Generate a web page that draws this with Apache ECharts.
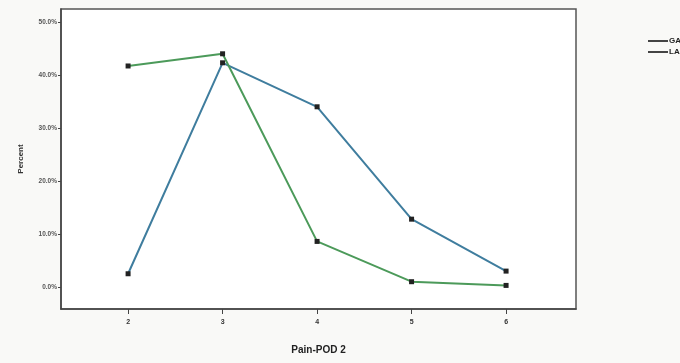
<!DOCTYPE html>
<html>
<head>
<meta charset="utf-8">
<script src="https://cdn.jsdelivr.net/npm/echarts@6/dist/echarts.min.js"></script>
<style>
html,body{margin:0;padding:0;background:#f9f9f7;}
#c{width:680px;height:363px;}
</style>
</head>
<body>
<div id="c"></div>
<script>
const categories = [2, 3, 4, 5, 6];
const gaValues = [2.5, 42.3, 34.0, 12.8, 3.0];
const laValues = [41.7, 44.0, 8.6, 1.0, 0.3];
const yTicks = [0, 10, 20, 30, 40, 50];
const seriesNames = ['GA', 'LA'];

const chart = echarts.init(document.getElementById('c'));
const pair = (vals) => categories.map((c, i) => [c, vals[i]]);
chart.setOption({
  backgroundColor: '#f9f9f7',
  animation: false,
  grid: {left: 61, right: 104, top: 9, bottom: 54, show: true, backgroundColor: '#ffffff', borderColor: '#555', borderWidth: 1.5},
  xAxis: {
    type: 'value', min: 1.29, max: 6.74,
    name: 'Pain-POD 2', nameLocation: 'middle', nameGap: 36,
    nameTextStyle: {fontFamily: 'Liberation Sans', fontWeight: 'bold', fontSize: 10, color: '#222'},
    axisLine: {show: true, onZero: false, lineStyle: {color: '#444', width: 1.5}},
    axisTick: {show: true, length: 5, lineStyle: {color: '#444'}, customValues: categories},
    axisLabel: {customValues: categories, fontFamily: 'Liberation Sans', fontWeight: 'bold', fontSize: 7, color: '#333', margin: 10},
    splitLine: {show: false}
  },
  yAxis: {
    type: 'value', min: -4.15, max: 52.45,
    name: 'Percent', nameLocation: 'middle', nameGap: 36, nameRotate: 90,
    nameTextStyle: {fontFamily: 'Liberation Sans', fontWeight: 'bold', fontSize: 8, color: '#333'},
    axisLine: {show: true, onZero: false, lineStyle: {color: '#444', width: 1.5}},
    axisTick: {show: true, length: 3, lineStyle: {color: '#444'}, customValues: yTicks},
    axisLabel: {customValues: yTicks, formatter: v => v.toFixed(1) + '%', fontFamily: 'Liberation Sans', fontWeight: 'bold', fontSize: 6.5, color: '#555', margin: 4},
    splitLine: {show: false}
  },
  legend: {
    orient: 'vertical', left: 643, top: 32, itemGap: 3, itemWidth: 20, itemHeight: 2, icon: 'rect',
    textStyle: {fontFamily: 'Liberation Sans', fontWeight: 'bold', fontSize: 8, color: '#222', padding: [0, 0, 0, -4]},
    data: seriesNames.map(n => ({name: n, itemStyle: {color: '#444'}}))
  },
  series: [
    {name: seriesNames[0], type: 'line', data: pair(gaValues), symbol: 'rect', symbolSize: 5,
     lineStyle: {color: '#3f7d9e', width: 2}, itemStyle: {color: '#222'}},
    {name: seriesNames[1], type: 'line', data: pair(laValues), symbol: 'rect', symbolSize: 5,
     lineStyle: {color: '#4c9a5a', width: 2}, itemStyle: {color: '#222'}}
  ]
});
</script>
</body>
</html>
